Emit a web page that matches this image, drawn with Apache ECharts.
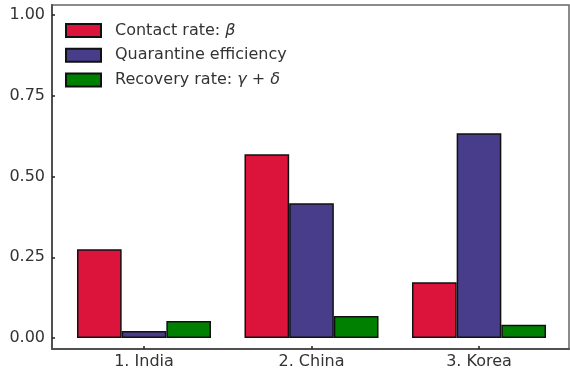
<!DOCTYPE html>
<html>
<head>
<meta charset="utf-8">
<script src="https://cdn.jsdelivr.net/npm/echarts@6/dist/echarts.min.js"></script>
<style>
  html, body { margin: 0; padding: 0; background: #fff; }
  #chart { width: 570px; height: 371px; }
</style>
</head>
<body>
<div id="chart"></div>
<script>
// Model parameters per country
const countries = ['1. India', '2. China', '3. Korea'];
const contactRate = [0.275, 0.569, 0.173];
const quarantineEff = [0.022, 0.417, 0.634];
const recoveryRate = [0.053, 0.068, 0.041];
const yTicks = [0, 0.25, 0.5, 0.75, 1.0];

const Y_MIN = -0.034, Y_MAX = 1.031;
const FONT = 'DejaVu Sans';
const FS = 16;
const spine = { show: true, onZero: false, lineStyle: { color: '#505050', width: 2 } };

const chart = echarts.init(document.getElementById('chart'));

function barSeries(name, data, color) {
  return {
    name, type: 'bar', data,
    xAxisIndex: 1, yAxisIndex: 1,
    barWidth: '26.67%', barGap: '0%',
    itemStyle: { color, borderColor: '#111', borderWidth: 1.5 },
    emphasis: { disabled: true },
    animation: false
  };
}

chart.setOption({
  animation: false,
  textStyle: { fontFamily: FONT },
  grid: [
    // frame with y axis
    { left: 52, right: 1, top: 5, bottom: 22, show: true, borderColor: '#666', borderWidth: 1.5 },
    // bar area, aligned so category centres sit on the ticks
    { left: 60.25, right: 7.25, top: 5, bottom: 22 }
  ],
  legend: {
    orient: 'vertical', left: 65, top: 22.5, padding: 0,
    icon: 'rect',
    itemWidth: 35, itemHeight: 13, itemGap: 8.7,
    textStyle: {
      fontFamily: FONT, fontSize: FS, color: '#333', padding: [0, 0, 0, 9],
      rich: { m: { fontFamily: FONT, fontStyle: 'italic', fontSize: FS, color: '#333' } }
    },
    formatter: function (n) {
      if (n === 'Contact rate') return 'Contact rate: {m|β}';
      if (n === 'Recovery rate') return 'Recovery rate: {m|γ} + {m|δ}';
      return n;
    },
    data: ['Contact rate', 'Quarantine efficiency', 'Recovery rate']
  },
  xAxis: [
    { gridIndex: 0, type: 'value', min: 0, max: 1, axisLine: spine,
      axisTick: { show: false }, axisLabel: { show: false }, splitLine: { show: false } },
    { gridIndex: 1, type: 'category', data: countries, position: 'bottom',
      axisLine: { show: false, onZero: false },
      axisTick: { show: true, alignWithLabel: true, inside: true, length: 3, lineStyle: { color: '#222', width: 1.5 } },
      axisLabel: { fontFamily: FONT, fontSize: FS, color: '#333', margin: 5 },
      splitLine: { show: false } }
  ],
  yAxis: [
    { gridIndex: 0, type: 'value', min: Y_MIN, max: Y_MAX, axisLine: spine,
      axisTick: { show: true, inside: true, length: 3, customValues: yTicks, lineStyle: { color: '#222', width: 1.5 } },
      axisLabel: { fontFamily: FONT, fontSize: FS, color: '#333', margin: 7,
        customValues: yTicks, formatter: v => v.toFixed(2) },
      splitLine: { show: false } },
    { gridIndex: 1, type: 'value', min: Y_MIN, max: Y_MAX, show: false }
  ],
  series: [
    barSeries('Contact rate', contactRate, '#dc143c'),
    barSeries('Quarantine efficiency', quarantineEff, '#483d8b'),
    barSeries('Recovery rate', recoveryRate, '#008000')
  ]
});
</script>
</body>
</html>
